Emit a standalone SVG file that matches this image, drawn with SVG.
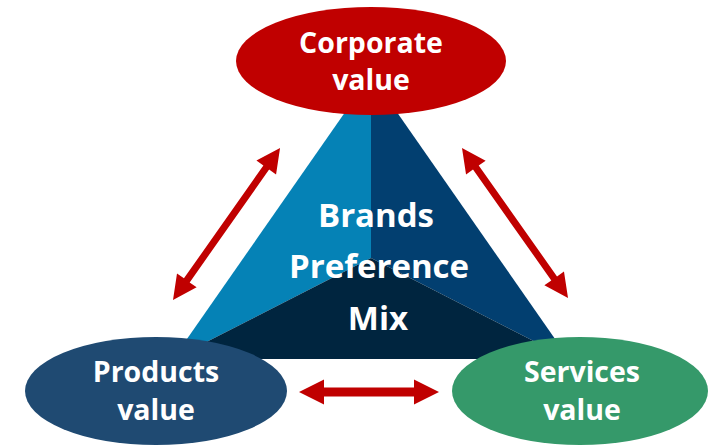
<svg xmlns="http://www.w3.org/2000/svg" width="709" height="445" viewBox="0 0 709 445">
  <style>
    .lbl { font-family: "Open Sans", "Liberation Sans", sans-serif; font-weight: 700; fill: #ffffff; text-anchor: middle; }
    .node { font-size: 28.5px; }
    .center { font-size: 33px; }
    .arrow { fill: #C00000; }
  </style>
  <rect width="709" height="445" fill="#ffffff"/>
  <g id="pyramid">
    <polygon points="371,75 371,258 173,359" fill="#0582B6"/>
    <polygon points="371,75 371,258 569,359" fill="#023F70"/>
    <polygon points="173,359 371,258 569,359" fill="#00253F"/>
    <text class="lbl center" x="376" y="227">Brands</text>
    <text class="lbl center" x="379" y="278">Preference</text>
    <text class="lbl center" x="378" y="330">Mix</text>
  </g>
  <g id="corporate">
    <ellipse cx="371" cy="61" rx="135" ry="54" fill="#C00000"/>
    <text class="lbl node" x="371" y="53">Corporate</text>
    <text class="lbl node" x="371" y="90">value</text>
  </g>
  <g id="products">
    <ellipse cx="156" cy="391" rx="131" ry="54" fill="#1F4A72"/>
    <text class="lbl node" x="156" y="382">Products</text>
    <text class="lbl node" x="156" y="420">value</text>
  </g>
  <g id="services">
    <ellipse cx="580" cy="391" rx="128" ry="54" fill="#35996A"/>
    <text class="lbl node" x="582" y="382">Services</text>
    <text class="lbl node" x="582" y="420">value</text>
  </g>
  <g id="connectors">
    <polygon class="arrow" transform="translate(173,300) rotate(-54.86)" points="0,0 24,-12 24,-3.5 162,-3.5 162,-12 186,0 162,12 162,3.5 24,3.5 24,12"/>
    <polygon class="arrow" transform="translate(462,148) rotate(54.75)" points="0,0 24,-12 24,-3.5 159.7,-3.5 159.7,-12 183.7,0 159.7,12 159.7,3.5 24,3.5 24,12"/>
    <polygon class="arrow" transform="translate(299,392)" points="0,0 25,-12.5 25,-4.5 115,-4.5 115,-12.5 140,0 115,12.5 115,4.5 25,4.5 25,12.5"/>
  </g>
</svg>
